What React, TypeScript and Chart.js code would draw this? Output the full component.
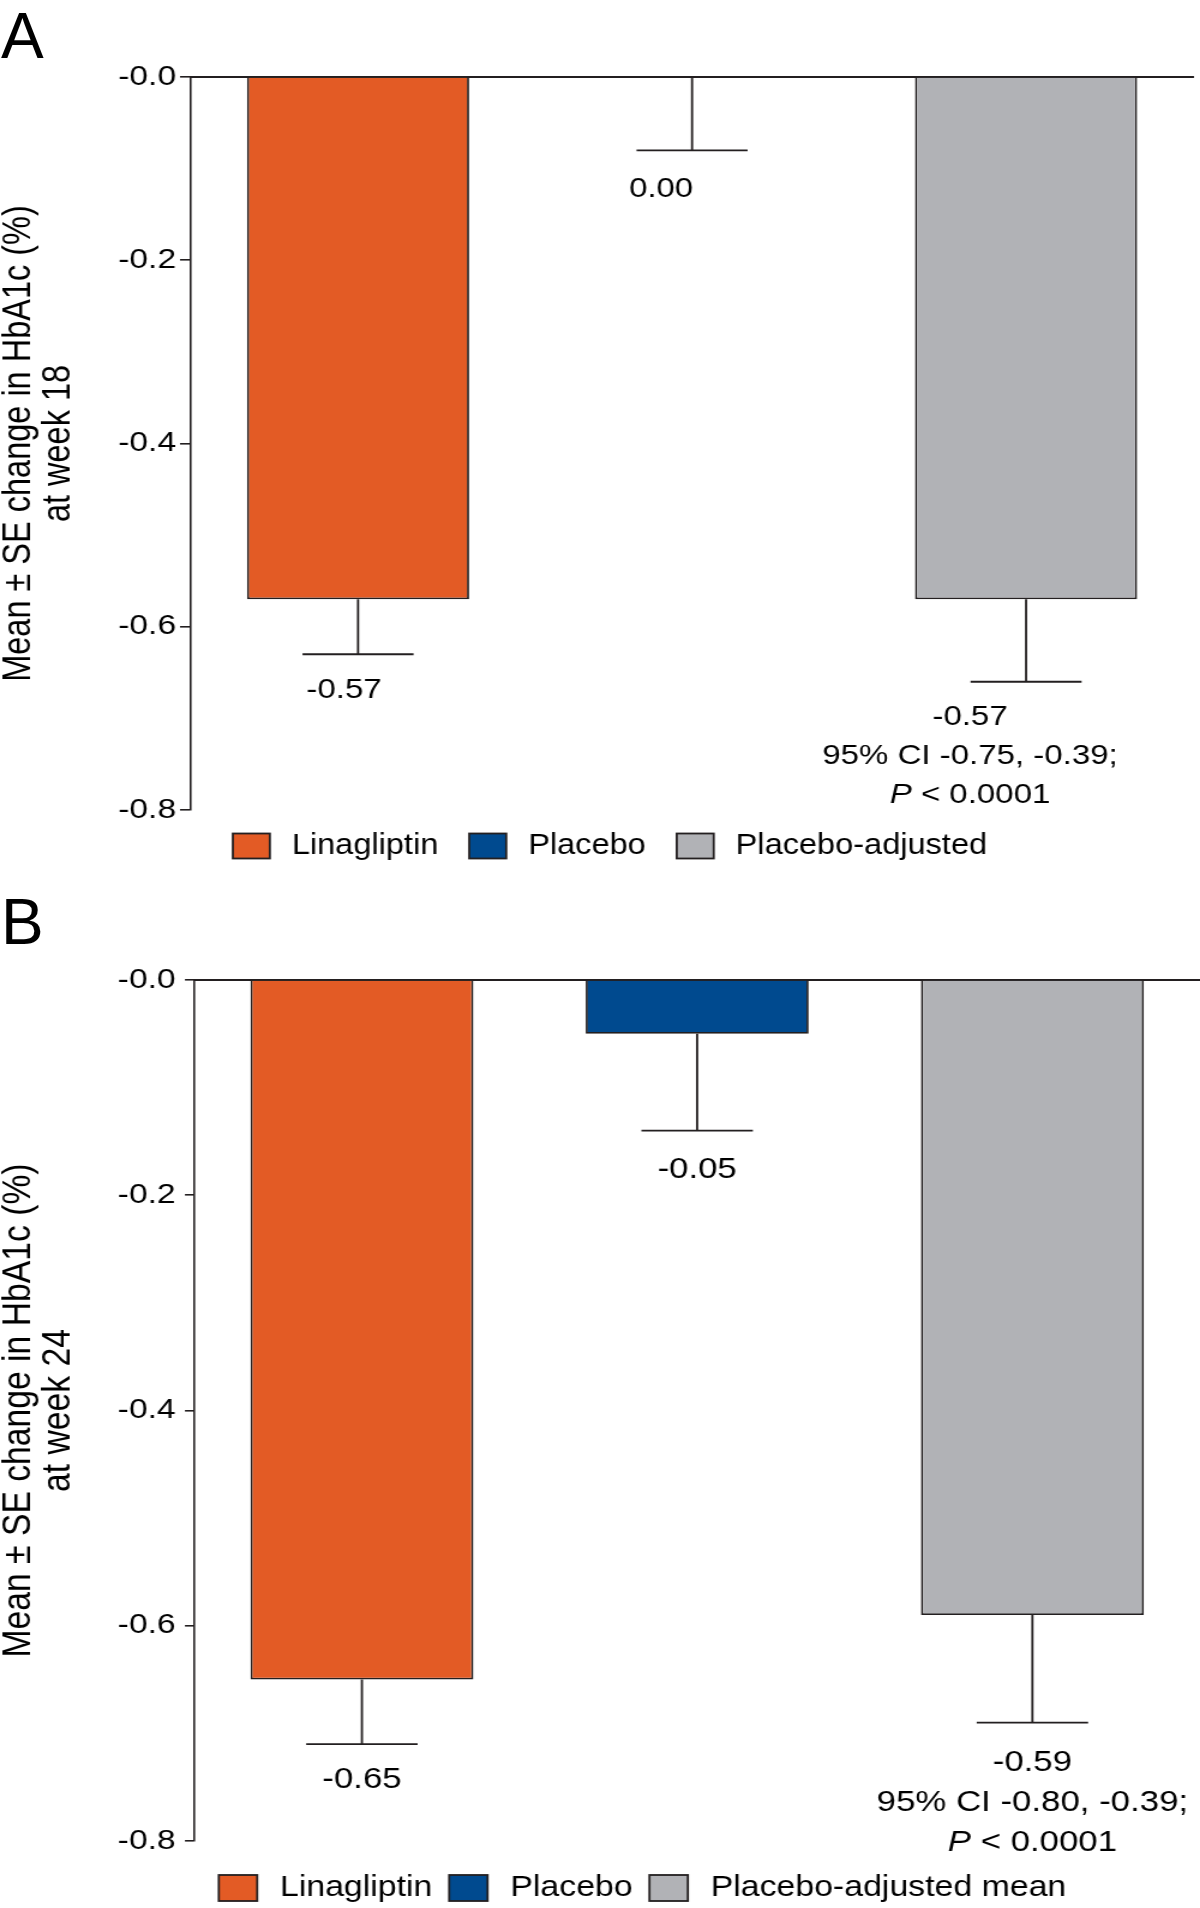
import React, { useEffect, useRef } from "react";
import { Chart, registerables } from "chart.js";

Chart.register(...registerables);

const FONT = "'Liberation Sans', Arial, Helvetica, sans-serif";
const EDGE = "#231F20";

// ---------- data ----------
const SERIES_COLORS = ["#E35B25", "#004A8F", "#B1B2B6"];

const LABELS_A = ["Linagliptin", "Placebo", "Placebo-adjusted"];
const MEANS_A = [-0.57, 0.0, -0.57];
const SE_A = [0.06, 0.08, 0.09];
const ANNOT_A = [["-0.57"], ["0.00"], ["-0.57", "95% CI -0.75, -0.39;", "P < 0.0001"]];
const Y_TITLE_A = ["Mean ± SE change in HbA1c (%)", "at week 18"];

const LABELS_B = ["Linagliptin", "Placebo", "Placebo-adjusted mean"];
const MEANS_B = [-0.65, -0.05, -0.59];
const SE_B = [0.06, 0.09, 0.1];
const ANNOT_B = [["-0.65"], ["-0.05"], ["-0.59", "95% CI -0.80, -0.39;", "P < 0.0001"]];
const Y_TITLE_B = ["Mean ± SE change in HbA1c (%)", "at week 24"];

const Y_TICK_LABELS = ["-0.8", "-0.6", "-0.4", "-0.2", "-0.0"];
const Y_MIN = -0.8;
const Y_MAX = 0;
const Y_STEP = 0.2;

// ---------- styles ----------
// The figure is drawn on a 1000-px-wide canvas and displayed 1200 px wide
// (the reference artwork is horizontally stretched by the same ratio).
const CANVAS_W = 1000;
const PAGE_W = 1200;

type PanelStyle = {
  height: number;
  padL: number;
  padR: number;
  padT: number;
  padB: number;
  yWidth: number;
  tickLength: number;
  tickPad: number;
  tickFont: number;
  titleFont: number;
  titleLineHeight: number;
  titleShift: number;
  labelFont: number;
  labelGap: number;
  labelLine: number;
  labelDx: number[];
  labelDy: number[];
  legendFont: number;
  legendSx: number;
  legendCx: number;
  legendCy: number;
  boxW: number;
  boxH: number;
  gap1: number;
  gap2: number;
};

const STYLE_A: PanelStyle = {
  height: 885,
  padL: 0,
  padR: 5.8,
  padT: 77,
  padB: 75,
  yWidth: 159.2,
  tickLength: 9.2,
  tickPad: 3.3,
  tickFont: 28,
  titleFont: 32.5,
  titleLineHeight: 1.02,
  titleShift: -0.8,
  labelFont: 27.5,
  labelGap: 36,
  labelLine: 39,
  labelDx: [-11.7, -25.8, -46.7],
  labelDy: [0, 3, 0],
  legendFont: 29,
  legendSx: 0.935,
  legendCx: 508.3,
  legendCy: 846,
  boxW: 30.8,
  boxH: 25,
  gap1: 18.3,
  gap2: 25.8,
};

const STYLE_B: PanelStyle = {
  height: 1023,
  padL: 0,
  padR: 0,
  padT: 95,
  padB: 67,
  yWidth: 161.9,
  tickLength: 7.8,
  tickPad: 7.8,
  tickFont: 28,
  titleFont: 33.7,
  titleLineHeight: 0.985,
  titleShift: -0.85,
  labelFont: 29,
  labelGap: 36,
  labelLine: 40,
  labelDx: [0, 0, 0],
  labelDy: [0, 3, 4],
  legendFont: 30,
  legendSx: 0.94,
  legendCx: 535.4,
  legendCy: 1003,
  boxW: 32,
  boxH: 26,
  gap1: 19,
  gap2: 14,
};

function drawRichLine(ctx: CanvasRenderingContext2D, line: string, cx: number, y: number, size: number) {
  ctx.fillStyle = "#000";
  ctx.textBaseline = "middle";
  if (line.startsWith("P ")) {
    const ital = "P";
    const rest = line.slice(1);
    ctx.font = `italic ${size}px ${FONT}`;
    const w1 = ctx.measureText(ital).width;
    ctx.font = `${size}px ${FONT}`;
    const w2 = ctx.measureText(rest).width;
    const x0 = cx - (w1 + w2) / 2;
    ctx.textAlign = "left";
    ctx.font = `italic ${size}px ${FONT}`;
    ctx.fillText(ital, x0, y);
    ctx.font = `${size}px ${FONT}`;
    ctx.fillText(rest, x0 + w1, y);
  } else {
    ctx.font = `${size}px ${FONT}`;
    ctx.textAlign = "center";
    ctx.fillText(line, cx, y);
  }
}

function makeErrorBarPlugin(se: number[], annots: string[][], st: PanelStyle) {
  return {
    id: "annotatedErrorBars",
    afterDatasetsDraw(chart: any) {
      const ctx: CanvasRenderingContext2D = chart.ctx;
      const yScale = chart.scales.y;
      ctx.save();
      chart.data.datasets.forEach((ds: any, di: number) => {
        const meta = chart.getDatasetMeta(di);
        ds.data.forEach((v: number | null, i: number) => {
          if (v === null || v === undefined) return;
          const el: any = meta.data[i];
          const yEnd = yScale.getPixelForValue(v - se[i]);
          const half = el.width / 4;
          ctx.strokeStyle = EDGE;
          ctx.lineWidth = 1.8;
          ctx.beginPath();
          ctx.moveTo(el.x, el.y);
          ctx.lineTo(el.x, yEnd);
          ctx.moveTo(el.x - half, yEnd);
          ctx.lineTo(el.x + half, yEnd);
          ctx.stroke();
          const cx = el.x + st.labelDx[i];
          annots[i].forEach((line, k) => {
            drawRichLine(ctx, line, cx, yEnd + st.labelGap + st.labelDy[i] + k * st.labelLine, st.labelFont);
          });
        });
      });
      ctx.restore();
    },
  };
}

function makeLegendPlugin(st: PanelStyle) {
  return {
    id: "panelLegend",
    afterDraw(chart: any) {
      const ctx: CanvasRenderingContext2D = chart.ctx;
      const items = chart.data.datasets.map((d: any) => ({ text: d.label, color: d.backgroundColor }));
      ctx.save();
      ctx.font = `${st.legendFont}px ${FONT}`;
      const widths = items.map((it: any) => ctx.measureText(it.text).width * st.legendSx);
      let total = 0;
      widths.forEach((w: number) => (total += st.boxW + st.gap1 + w));
      total += st.gap2 * (items.length - 1);
      let x = st.legendCx - total / 2;
      const cy = st.legendCy;
      items.forEach((it: any, i: number) => {
        ctx.fillStyle = it.color;
        ctx.fillRect(x, cy - st.boxH / 2, st.boxW, st.boxH);
        ctx.strokeStyle = EDGE;
        ctx.lineWidth = 1.8;
        ctx.strokeRect(x, cy - st.boxH / 2, st.boxW, st.boxH);
        x += st.boxW + st.gap1;
        ctx.save();
        ctx.translate(x, cy);
        ctx.scale(st.legendSx, 1);
        ctx.fillStyle = "#000";
        ctx.textAlign = "left";
        ctx.textBaseline = "middle";
        ctx.font = `${st.legendFont}px ${FONT}`;
        ctx.fillText(it.text, 0, 0);
        ctx.restore();
        x += widths[i] + st.gap2;
      });
      ctx.restore();
    },
  };
}

function buildConfig(
  labels: string[],
  means: number[],
  se: number[],
  annots: string[][],
  yTitle: string[],
  st: PanelStyle
): any {
  const datasets = labels.map((lab, i) => ({
    label: lab,
    data: labels.map((_, j) => (j === i ? means[i] : null)),
    backgroundColor: SERIES_COLORS[i],
    borderColor: EDGE,
    borderWidth: 1.8,
    borderSkipped: "start",
    grouped: false,
    barPercentage: 0.665,
    categoryPercentage: 1,
  }));
  return {
    type: "bar",
    data: { labels, datasets },
    options: {
      animation: false,
      responsive: false,
      maintainAspectRatio: false,
      events: [],
      layout: { padding: { left: st.padL, right: st.padR, top: st.padT, bottom: st.padB } },
      plugins: {
        tooltip: { enabled: false },
        title: { display: false },
        legend: { display: false },
      },
      scales: {
        x: {
          type: "category",
          position: "top",
          offset: true,
          grid: { display: false, drawTicks: false },
          ticks: { display: false },
          border: { display: true, color: EDGE, width: 2 },
          afterFit: (s: any) => {
            s.height = 0;
          },
        },
        y: {
          type: "linear",
          min: Y_MIN,
          max: Y_MAX,
          ticks: {
            stepSize: Y_STEP,
            callback: (v: number, i: number) => Y_TICK_LABELS[i] ?? String(v),
            font: { size: st.tickFont, family: FONT },
            color: "#000",
            padding: st.tickPad,
          },
          grid: {
            display: true,
            drawOnChartArea: false,
            drawTicks: true,
            tickLength: st.tickLength,
            color: EDGE,
            lineWidth: 1.6,
          },
          border: { display: true, color: EDGE, width: 1.6 },
          title: {
            display: true,
            text: yTitle,
            font: { size: st.titleFont, family: FONT, lineHeight: st.titleLineHeight },
            color: "#000",
            padding: { top: st.titleShift, bottom: 0 },
          },
          afterFit: (s: any) => {
            s.width = st.yWidth;
          },
        },
      },
    },
    plugins: [makeErrorBarPlugin(se, annots, st), makeLegendPlugin(st)],
  };
}

function Panel(props: {
  top: number;
  labels: string[];
  means: number[];
  se: number[];
  annots: string[][];
  yTitle: string[];
  st: PanelStyle;
}) {
  const ref = useRef<HTMLCanvasElement | null>(null);
  useEffect(() => {
    if (!ref.current) return;
    Chart.defaults.font.family = FONT;
    const chart = new Chart(
      ref.current,
      buildConfig(props.labels, props.means, props.se, props.annots, props.yTitle, props.st)
    );
    return () => chart.destroy();
  }, []);
  return (
    <div
      style={{
        position: "absolute",
        left: 0,
        top: props.top,
        width: PAGE_W,
        height: props.st.height,
      }}
    >
      <canvas
        ref={ref}
        width={CANVAS_W}
        height={props.st.height}
        style={{ display: "block", width: `${PAGE_W}px`, height: `${props.st.height}px` }}
      />
    </div>
  );
}

export default function App() {
  const letterStyle: React.CSSProperties = {
    position: "absolute",
    left: 1,
    fontFamily: FONT,
    fontSize: 64,
    lineHeight: 1,
    color: "#000",
  };
  return (
    <div
      style={{
        position: "absolute",
        left: 0,
        top: 0,
        width: PAGE_W,
        height: 1908,
        overflow: "hidden",
        background: "#fff",
      }}
    >
      <Panel top={0} labels={LABELS_A} means={MEANS_A} se={SE_A} annots={ANNOT_A} yTitle={Y_TITLE_A} st={STYLE_A} />
      <Panel top={885} labels={LABELS_B} means={MEANS_B} se={SE_B} annots={ANNOT_B} yTitle={Y_TITLE_B} st={STYLE_B} />
      <div style={{ ...letterStyle, top: 4 }}>A</div>
      <div style={{ ...letterStyle, top: 890 }}>B</div>
    </div>
  );
}
